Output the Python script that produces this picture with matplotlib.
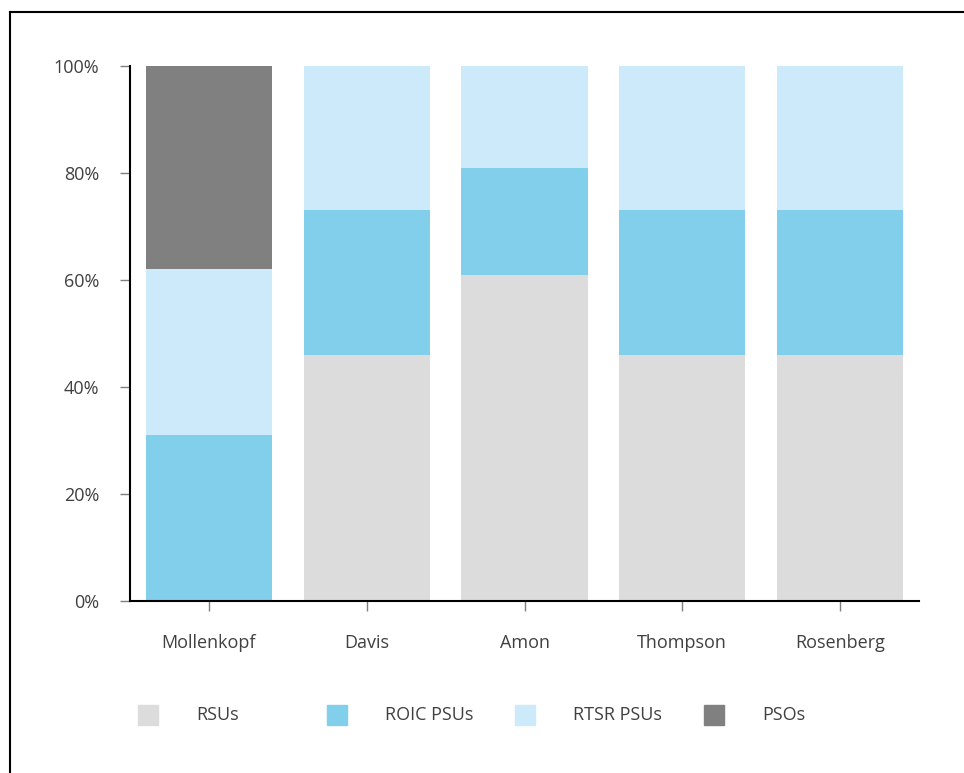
import matplotlib.pyplot as plt
from matplotlib.patches import Rectangle
from matplotlib.lines import Line2D

plt.rcParams['font.family'] = ['Open Sans', 'DejaVu Sans']

names = ['Mollenkopf', 'Davis', 'Amon', 'Thompson', 'Rosenberg']
rsus = [0, 46, 61, 46, 46]
roic_psus = [31, 27, 20, 27, 27]
rtsr_psus = [31, 27, 19, 27, 27]
psos = [38, 0, 0, 0, 0]

series = [('RSUs', rsus, '#dcdcdc'),
          ('ROIC PSUs', roic_psus, '#82cfec'),
          ('RTSR PSUs', rtsr_psus, '#cceafa'),
          ('PSOs', psos, '#808080')]

text_col = '#404040'

fig = plt.figure(figsize=(9.64, 7.73), dpi=100)
ax = fig.add_axes([130 / 964, 1 - 601 / 773, (919 - 130) / 964, (601 - 66) / 773])

x = range(len(names))
bottom = [0] * len(names)
for label, vals, col in series:
    ax.bar(x, vals, width=0.8, bottom=bottom, color=col, label=label)
    bottom = [b + v for b, v in zip(bottom, vals)]

ax.set_xlim(-0.5, 4.5)
ax.set_ylim(0, 100)
ax.set_yticks([0, 20, 40, 60, 80, 100])
ax.set_yticklabels(['0%', '20%', '40%', '60%', '80%', '100%'])
ax.set_xticks(list(x))
ax.set_xticklabels(names)

for s in ['top', 'right']:
    ax.spines[s].set_visible(False)
for s in ['left', 'bottom']:
    ax.spines[s].set_linewidth(1.5)
    ax.spines[s].set_color('black')

ax.tick_params(axis='y', length=7, width=1, color='#808080', pad=15,
               labelsize=13, labelcolor=text_col)
ax.tick_params(axis='x', length=7, width=1, color='#808080', pad=17,
               labelsize=13, labelcolor=text_col)

# legend drawn by hand, fixed-width columns
leg_x = [138, 327, 515, 704]
leg_y = 715
for (label, vals, col), lx in zip(series, leg_x):
    fig.add_artist(Rectangle((lx / 964, 1 - (leg_y + 10) / 773), 20 / 964, 20 / 773,
                             transform=fig.transFigure, color=col))
    fig.text((lx + 58) / 964, 1 - leg_y / 773, label, fontsize=13,
             color=text_col, va='center', ha='left')

# outer frame (left and top edges)
fig.add_artist(Line2D([10 / 964, 10 / 964], [0, 1 - 12 / 773],
                      transform=fig.transFigure, color='black', lw=1.5))
fig.add_artist(Line2D([10 / 964, 1], [1 - 12 / 773, 1 - 12 / 773],
                      transform=fig.transFigure, color='black', lw=1.5))

fig.savefig('out.png', dpi=100)
